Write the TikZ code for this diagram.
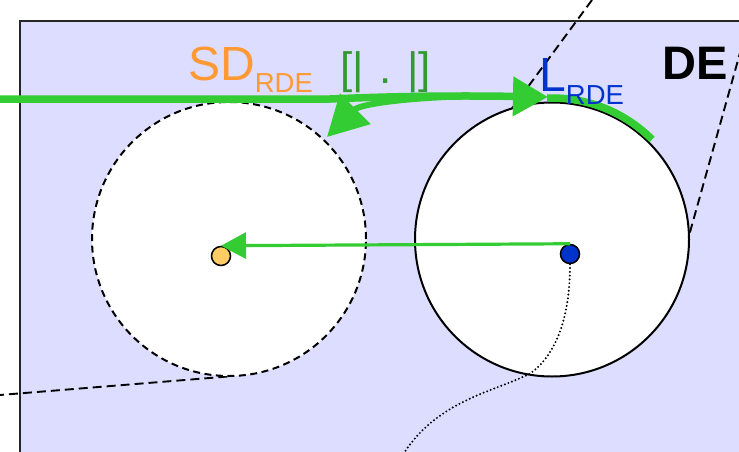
\documentclass[tikz,border=0pt]{standalone}
\usepackage{fontspec}
\setmainfont{Liberation Sans}
\usetikzlibrary{arrows.meta}
\definecolor{regfill}{HTML}{DDDDFF}
\definecolor{sdorange}{HTML}{FF9933}
\definecolor{opgreen}{HTML}{339933}
\definecolor{arrgreen}{HTML}{33CC33}
\definecolor{lblue}{HTML}{0033CC}
\definecolor{dotorange}{HTML}{FFCC66}
\begin{document}
\begin{tikzpicture}[x=1pt,y=-1pt,
  region/.style={fill=regfill, draw=black!85, line width=2pt},
  bound/.style={draw=black, line width=1.9pt, dash pattern=on 9pt off 5pt},
  disc/.style={circle, fill=white, draw=black, minimum size=274pt, inner sep=0pt, line width=2pt},
  dotnode/.style={circle, draw=black, line width=1.5pt, minimum size=19pt, inner sep=0pt},
  bigarrow/.style={line width=7.5pt, draw=arrgreen},
  lbl/.style={inner sep=0pt, anchor=base west},
  traj/.style={draw=black, line width=2.2pt, line cap=round, dash pattern=on 0pt off 3.8pt},
]
\useasboundingbox (0,0) rectangle (739,452);
\clip (0,0) rectangle (739,452);
\fill[white] (0,0) rectangle (739,452);
\draw[region] (20,21) rectangle (800,520);
% dashed boundary lines
\coordinate (b1a) at (592,0);
\coordinate (b1b) at (505,118);
\coordinate (b2a) at (745,35);
\coordinate (b2b) at (685,250);
\coordinate (b3a) at (-5,395.4);
\coordinate (b3b) at (228,376.5);
\draw[bound] (b1a) -- (b1b);
\draw[bound] (b2a) -- (b2b);
\draw[bound] (b3a) -- (b3b);
% circles
\node[disc, dash pattern=on 7pt off 4.5pt] (sdc) at (229,239) {};
\node[disc] (lc) at (552,239.5) {};
% dots
\node[dotnode, fill=dotorange] (sd) at (221,256) {};
\node[dotnode, fill=lblue] (ld) at (570,254) {};
% dotted trajectory
\coordinate (tend) at (401,458);
\draw[traj] (ld.south) .. controls (570,320) and (555,355) .. (531,373)
  .. controls (495,392) and (435,400) .. (tend);
% thin arrow
\draw[arrgreen, line width=3.2pt, -{Triangle[length=25pt,width=26pt]}] (ld.north) -- (sd.north);
% thick arrows
\coordinate (g0) at (0,99);
\coordinate (g1) at (330,99);
\coordinate (g2) at (548,97);
\draw[bigarrow, -{Triangle[length=35pt,width=38pt]}] (g0) -- (g1) .. controls (420,95) and (490,96) .. (g2);
\draw[bigarrow] ([shift={(-92:141.5)}]lc.center) arc[start angle=-92, end angle=-45, radius=141.5];
\coordinate (h0) at (480,96);
\coordinate (h1) at (327,137);
\draw[line width=6pt, draw=arrgreen, -{Triangle[length=40pt,width=42pt]}] (h0) .. controls (410,97) and (360,104) .. (h1);
% labels
\node[lbl, text=sdorange, font=\fontsize{48}{50}\selectfont] (sdl) at (188,81) {SD\raisebox{-12pt}{\fontsize{27.5}{29}\selectfont RDE}};
\node[lbl, text=opgreen, font=\fontsize{44}{46}\selectfont] (op) at (340,84) {[|\hspace{16pt}.\hspace{15pt}|]};
\node[lbl, text=lblue, font=\fontsize{48}{50}\selectfont] (ll) at (539,92) {L\raisebox{-13pt}{\fontsize{27.5}{29}\selectfont RDE}};
\node[lbl, font=\bfseries\fontsize{47}{50}\selectfont] (de) at (662,80) {DE};
\end{tikzpicture}
\end{document}
